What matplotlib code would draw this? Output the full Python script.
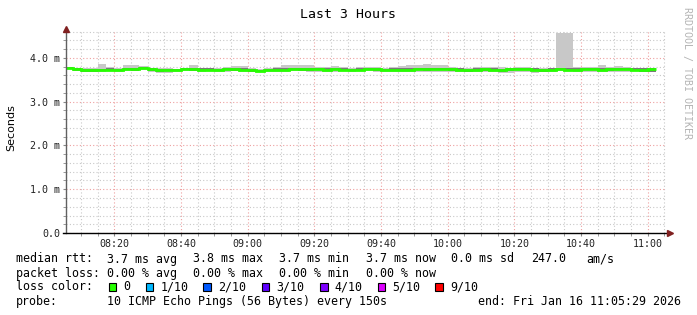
import matplotlib
matplotlib.use("Agg")
import matplotlib.pyplot as plt
import matplotlib.dates as mdates
from matplotlib.patches import Rectangle
from matplotlib.ticker import MultipleLocator
import pandas as pd

plt.rcParams['font.family'] = ['DejaVu Sans Mono']

# smokeping: 150s steps from 08:05:00, values in ms
step_start = '2026-01-16 08:05:00'
view_start = '2026-01-16 08:05:29'
view_end = '2026-01-16 11:05:29'

median = [3.78, 3.75, 3.73, 3.72, 3.72, 3.73, 3.72, 3.74, 3.75, 3.78,
          3.74, 3.72, 3.72, 3.72, 3.74, 3.74, 3.73, 3.73, 3.72, 3.74,
          3.74, 3.73, 3.72, 3.71, 3.72, 3.73, 3.73, 3.74, 3.75, 3.74,
          3.74, 3.73, 3.74, 3.73, 3.72, 3.73, 3.74, 3.74, 3.73, 3.73,
          3.72, 3.73, 3.74, 3.74, 3.75, 3.74, 3.74, 3.73, 3.72, 3.73,
          3.74, 3.73, 3.72, 3.74, 3.75, 3.75, 3.73, 3.72, 3.73, 3.74,
          3.73, 3.73, 3.74, 3.74, 3.73, 3.74, 3.75, 3.74, 3.73, 3.73,
          3.74]
smoke_hi = [3.80, 3.78, 3.78, 3.76, 3.86, 3.79, 3.78, 3.83, 3.83, 3.81,
            3.78, 3.77, 3.76, 3.75, 3.77, 3.85, 3.78, 3.78, 3.77, 3.80,
            3.82, 3.81, 3.77, 3.75, 3.76, 3.80, 3.83, 3.83, 3.83, 3.83,
            3.80, 3.79, 3.82, 3.79, 3.77, 3.79, 3.80, 3.80, 3.77, 3.80,
            3.81, 3.83, 3.83, 3.86, 3.85, 3.84, 3.80, 3.77, 3.78, 3.80,
            3.80, 3.79, 3.79, 3.77, 3.80, 3.80, 3.78, 3.78, 3.77, 4.57,
            4.57, 3.79, 3.79, 3.80, 3.83, 3.80, 3.81, 3.80, 3.78, 3.77,
            3.77]
smoke_lo = [3.74, 3.71, 3.69, 3.68, 3.68, 3.70, 3.69, 3.70, 3.70, 3.72,
            3.69, 3.65, 3.65, 3.69, 3.70, 3.70, 3.69, 3.70, 3.67, 3.69,
            3.70, 3.68, 3.67, 3.67, 3.67, 3.69, 3.69, 3.70, 3.70, 3.69,
            3.69, 3.69, 3.68, 3.70, 3.68, 3.70, 3.70, 3.69, 3.69, 3.68,
            3.68, 3.69, 3.69, 3.68, 3.69, 3.68, 3.67, 3.68, 3.69, 3.68,
            3.68, 3.68, 3.66, 3.65, 3.69, 3.68, 3.66, 3.67, 3.69, 3.70,
            3.70, 3.69, 3.68, 3.67, 3.69, 3.68, 3.67, 3.68, 3.70, 3.69,
            3.69]
dark_hi = [3.79, 3.77, 3.75, 3.74, 3.75, 3.76, 3.75, 3.77, 3.78, 3.80,
           3.77, 3.75, 3.74, 3.74, 3.76, 3.77, 3.76, 3.76, 3.75, 3.77,
           3.77, 3.76, 3.74, 3.73, 3.75, 3.76, 3.77, 3.77, 3.78, 3.77,
           3.77, 3.76, 3.77, 3.76, 3.75, 3.76, 3.77, 3.77, 3.75, 3.76,
           3.76, 3.77, 3.77, 3.78, 3.78, 3.77, 3.77, 3.76, 3.75, 3.76,
           3.77, 3.76, 3.75, 3.76, 3.77, 3.78, 3.76, 3.75, 3.76, 3.77,
           3.77, 3.76, 3.77, 3.77, 3.76, 3.77, 3.78, 3.77, 3.76, 3.76,
           3.76]
dark_lo = [3.76, 3.70, 3.69, 3.69, 3.70, 3.71, 3.70, 3.72, 3.71, 3.75,
           3.70, 3.69, 3.70, 3.71, 3.72, 3.71, 3.71, 3.71, 3.70, 3.72,
           3.71, 3.70, 3.69, 3.69, 3.70, 3.71, 3.71, 3.72, 3.71, 3.71,
           3.72, 3.70, 3.72, 3.70, 3.70, 3.71, 3.72, 3.71, 3.71, 3.70,
           3.70, 3.71, 3.72, 3.71, 3.72, 3.72, 3.71, 3.70, 3.69, 3.71,
           3.71, 3.70, 3.69, 3.70, 3.72, 3.73, 3.70, 3.69, 3.71, 3.72,
           3.71, 3.70, 3.72, 3.72, 3.71, 3.70, 3.72, 3.72, 3.71, 3.69,
           3.69]

ytick_vals = [0, 1, 2, 3, 4]
ytick_labels = ['0.0', '1.0 m', '2.0 m', '3.0 m', '4.0 m']

loss_labels = ['0', '1/10', '2/10', '3/10', '4/10', '5/10', '9/10']
loss_colors = ['#26ff00', '#00b8ff', '#0059ff', '#5e00ff', '#7e00ff', '#dd00ff', '#ff0000']

W, H = 697, 315
fig = plt.figure(figsize=(W / 100, H / 100), dpi=100)
ax = fig.add_axes([66 / W, 82 / H, 600 / W, 203 / H])

edges = mdates.date2num(pd.date_range(step_start, periods=len(median) + 1, freq='150s').to_pydatetime())

ax.stairs(smoke_hi, edges, baseline=smoke_lo, fill=True, color='#c8c8c8', lw=0, zorder=2)
ax.stairs(dark_hi, edges, baseline=dark_lo, fill=True, color='#7a7a7a', lw=0, zorder=3)
ax.stairs(median, edges, baseline=None, color='#26ff00', lw=2.0, zorder=4)

ax.set_xlim(mdates.date2num(pd.Timestamp(view_start)), mdates.date2num(pd.Timestamp(view_end)))
ax.set_ylim(0, 4.64)

ax.xaxis.set_major_locator(mdates.MinuteLocator(byminute=[0, 20, 40]))
ax.xaxis.set_minor_locator(mdates.MinuteLocator(byminute=range(0, 60, 5)))
ax.xaxis.set_major_formatter(mdates.DateFormatter('%H:%M'))
ax.set_yticks(ytick_vals, ytick_labels)
ax.yaxis.set_minor_locator(MultipleLocator(0.2))

ax.set_axisbelow(True)
ax.grid(which='minor', color='#c8c8c8', ls=(0, (1, 2)), lw=0.8)
ax.grid(which='major', color='#eea0a0', ls=(0, (1, 2)), lw=0.8)
ax.tick_params(which='both', direction='out', length=2, color='#888888', labelsize=7.2, pad=2, labelcolor='#222222')

for s in ax.spines.values():
    s.set_visible(False)
# rrdtool style axes with arrows
ax.plot([0, 0], [0, 1.0], transform=ax.transAxes, color='#606060', lw=1, clip_on=False, zorder=5)
ax.plot([-0.005, 1.006], [0, 0], transform=ax.transAxes, color='black', lw=1, clip_on=False, zorder=5)
ax.plot([0], [1.003], marker='^', ms=5, color='#802020', transform=ax.transAxes, clip_on=False, zorder=6)
ax.plot([1.007], [0], marker='>', ms=5, color='#802020', transform=ax.transAxes, clip_on=False, zorder=6)


def px(x, y):
    return x / W, 1 - y / H


fig.text(*px(348, 14), 'Last 3 Hours', ha='center', va='center', fontsize=9.5)
fig.text(*px(11, 128), 'Seconds', ha='center', va='center', rotation=90, fontsize=8, family='DejaVu Sans')
fig.text(*px(687, 73), 'RRDTOOL / TOBI OETIKER', ha='center', va='center', rotation=270,
         fontsize=7.2, color='#b4b4b4')

fs = 8.4
rows = [
    (259, [(16, 'median rtt:'), (107, '3.7 ms avg'), (193, '3.8 ms max'), (279, '3.7 ms min'),
           (365.7, '3.7 ms now'), (451, '0.0 ms sd'), (530.7, '247.0'), (586.7, 'am/s')]),
    (273.3, [(16, 'packet loss:'), (107, '0.00 % avg'), (193, '0.00 % max'), (279, '0.00 % min'),
             (365.7, '0.00 % now')]),
    (301.7, [(16, 'probe:'), (107, '10 ICMP Echo Pings (56 Bytes) every 150s'),
             (478.3, 'end: Fri Jan 16 11:05:29 2026')]),
]
for y, items in rows:
    for x, s in items:
        fig.text(*px(x, y), s, ha='left', va='center', fontsize=fs)

fig.text(*px(16, 286.7), 'loss color:', ha='left', va='center', fontsize=fs)
sq_x = [108.7, 145.7, 203.3, 261.7, 320, 377.7, 435.3]
for x, lab, c in zip(sq_x, loss_labels, loss_colors):
    fig.patches.append(Rectangle(px(x, 290.5), 7.5 / W, 7.5 / H, transform=fig.transFigure,
                                 facecolor=c, edgecolor='black', lw=0.8))
    fig.text(*px(x + 14.5, 286.7), lab, ha='left', va='center', fontsize=fs)

fig.savefig('out.png', dpi=100)
